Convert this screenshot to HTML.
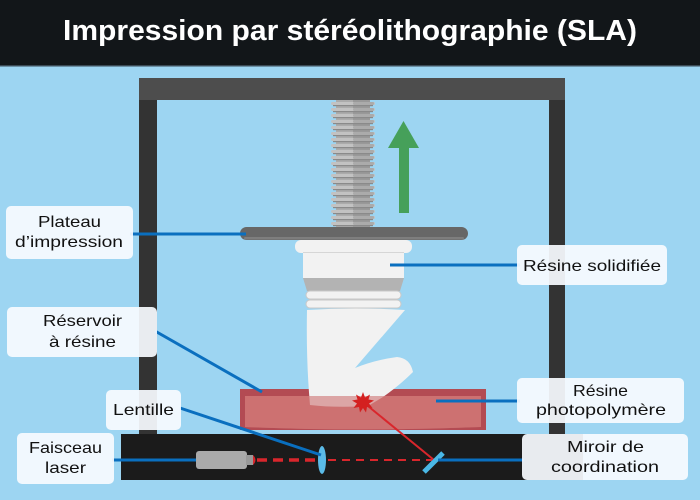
<!DOCTYPE html>
<html><head><meta charset="utf-8"><style>
html,body{margin:0;padding:0;width:700px;height:500px;overflow:hidden;background:#9dd5f2}
svg{display:block}
text{font-family:"Liberation Sans",sans-serif}
</style></head><body>
<svg width="700" height="500" viewBox="0 0 700 500" xmlns="http://www.w3.org/2000/svg">
<defs>
<g id="th">
<rect x="331" y="0" width="44" height="3" rx="1.5" fill="#c2c2c2"/>
<rect x="353" y="0" width="21" height="3" rx="1.2" fill="#ababab"/>
<rect x="333" y="3" width="40" height="1.2" fill="#8a8a8a"/>
</g>
</defs>
<!-- background -->
<rect x="0" y="0" width="700" height="500" fill="#9dd5f2"/>
<!-- header -->
<rect x="0" y="0" width="700" height="66" fill="#121619"/>
<rect x="0" y="65" width="700" height="1.5" fill="#3b4a55"/>
<text x="350" y="40" text-anchor="middle" font-size="29" font-weight="bold" fill="#ffffff" textLength="574" lengthAdjust="spacingAndGlyphs">Impression par stéréolithographie (SLA)</text>

<!-- frame -->
<rect x="139" y="100" width="18" height="336" fill="#333333"/>
<rect x="549" y="100" width="16" height="336" fill="#333333"/>
<rect x="139" y="78" width="426" height="22" fill="#4d4d4d"/>
<!-- base -->
<rect x="121" y="434" width="462" height="46" fill="#1b1b1b"/>

<!-- screw -->
<rect x="336" y="100" width="34" height="128" fill="#ababab"/>
<rect x="353" y="100" width="17" height="128" fill="#999999"/>
<use href="#th" y="102"/>
<use href="#th" y="108"/>
<use href="#th" y="114"/>
<use href="#th" y="120"/>
<use href="#th" y="126"/>
<use href="#th" y="132"/>
<use href="#th" y="138"/>
<use href="#th" y="144"/>
<use href="#th" y="150"/>
<use href="#th" y="156"/>
<use href="#th" y="162"/>
<use href="#th" y="168"/>
<use href="#th" y="174"/>
<use href="#th" y="180"/>
<use href="#th" y="186"/>
<use href="#th" y="192"/>
<use href="#th" y="198"/>
<use href="#th" y="204"/>
<use href="#th" y="210"/>
<use href="#th" y="216"/>
<use href="#th" y="222"/>

<!-- green arrow -->
<rect x="399" y="146" width="10" height="67" fill="#46a05a"/>
<polygon points="403.5,121 388,148 419,148" fill="#46a05a"/>

<!-- plateau -->
<rect x="240" y="227" width="228" height="13" rx="6.5" fill="#676767"/>
<rect x="244" y="237" width="220" height="2.5" rx="1.2" fill="#7e7e7e"/>

<!-- solidified resin head -->
<rect x="295" y="240" width="117" height="13" rx="6" fill="#f2f2f2"/>
<rect x="303" y="252" width="101" height="26" fill="#f2f2f2"/>
<rect x="303" y="252" width="101" height="1" fill="#d6d6d6"/>
<polygon points="303,278 404,278 400,291 307,291" fill="#b3b3b3"/>
<rect x="306" y="291" width="95" height="8" rx="4" fill="#f2f2f2" stroke="#c8c8c8" stroke-width="1"/>
<rect x="306" y="300" width="95" height="8" rx="4" fill="#f2f2f2" stroke="#c8c8c8" stroke-width="1"/>

<!-- tank -->
<rect x="240" y="389" width="246" height="41" fill="#b34b53"/>
<path d="M245,396 H481 V427 Q363,432 245,427 Z" fill="#cd7272"/>

<!-- L shape -->
<path d="M307,310 Q355,307 405,310 L355,368 Q375,360 397,357 Q410,358 413,372 Q400,385 383,397 L368,406 Q335,408 310,405 Q306,360 307,310 Z" fill="#f2f2f2"/>
<!-- overlay inside tank -->
<path d="M245,396 H481 V427 Q363,432 245,427 Z" fill="#cd7272" opacity="0.6"/>

<!-- laser components -->
<rect x="196" y="451" width="51" height="18" rx="3" fill="#aaaaaa"/>
<rect x="246" y="455" width="7" height="10" fill="#999999"/>
<path d="M253,455 Q258,460 253,465 Z" fill="#d9262c"/>
<line x1="257" y1="460" x2="318" y2="460" stroke="#d9262c" stroke-width="3.5" stroke-dasharray="10 6"/>
<line x1="328" y1="460" x2="432" y2="460" stroke="#d9262c" stroke-width="2" stroke-dasharray="8 6"/>
<ellipse cx="322" cy="460" rx="4" ry="14" fill="#5bbbe8"/>
<!-- red beam up -->
<line x1="363" y1="402" x2="434" y2="460" stroke="#d9262c" stroke-width="2"/>
<!-- mirror -->
<line x1="424" y1="472" x2="443" y2="453" stroke="#4ab8e6" stroke-width="5"/>
<!-- star -->
<polygon fill="#d42020" points="363,392 365,397.5 370,394.5 368.5,399.5 374,400.5 369,403.5 372.5,408 367,407 366,412.5 363,408 360,412.5 359,407 353.5,408 357,403.5 352,400.5 357.5,399.5 356,394.5 361,397.5"/>

<!-- connectors -->
<g stroke="#0a6fbf" stroke-width="3" fill="none">
<line x1="130" y1="234" x2="246" y2="234"/>
<line x1="155" y1="331" x2="262" y2="392"/>
<line x1="180" y1="408" x2="321" y2="455"/>
<line x1="112" y1="460" x2="196" y2="460"/>
<line x1="390" y1="265" x2="520" y2="265"/>
<line x1="436" y1="401" x2="520" y2="401"/>
<line x1="438" y1="460" x2="524" y2="460"/>
</g>

<!-- labels -->
<g fill="#f8fbff" fill-opacity="0.93">
<rect x="6" y="206" width="127" height="53" rx="5"/>
<rect x="7" y="307" width="150" height="50" rx="5"/>
<rect x="106" y="390" width="75" height="40" rx="5"/>
<rect x="17" y="433" width="97" height="51" rx="5"/>
<rect x="517" y="245" width="150" height="40" rx="5"/>
<rect x="517" y="378" width="167" height="45" rx="5"/>
<rect x="522" y="434" width="166" height="46" rx="5"/>
</g>
<g fill="#111111" font-size="16" text-anchor="middle">
<text x="69.5" y="227" textLength="63" lengthAdjust="spacingAndGlyphs">Plateau</text>
<text x="69" y="247" textLength="108" lengthAdjust="spacingAndGlyphs">d’impression</text>
<text x="82.5" y="326" textLength="79" lengthAdjust="spacingAndGlyphs">Réservoir</text>
<text x="82.5" y="347" textLength="67" lengthAdjust="spacingAndGlyphs">à résine</text>
<text x="143.5" y="415" textLength="61" lengthAdjust="spacingAndGlyphs">Lentille</text>
<text x="65.5" y="453" textLength="73" lengthAdjust="spacingAndGlyphs">Faisceau</text>
<text x="65.5" y="473" textLength="41" lengthAdjust="spacingAndGlyphs">laser</text>
<text x="592" y="271" textLength="138" lengthAdjust="spacingAndGlyphs">Résine solidifiée</text>
<text x="600.5" y="396" textLength="55" lengthAdjust="spacingAndGlyphs">Résine</text>
<text x="601" y="415" textLength="130" lengthAdjust="spacingAndGlyphs">photopolymère</text>
<text x="605.5" y="452" textLength="77" lengthAdjust="spacingAndGlyphs">Miroir de</text>
<text x="605" y="472" textLength="108" lengthAdjust="spacingAndGlyphs">coordination</text>
</g>
</svg>
</body></html>
